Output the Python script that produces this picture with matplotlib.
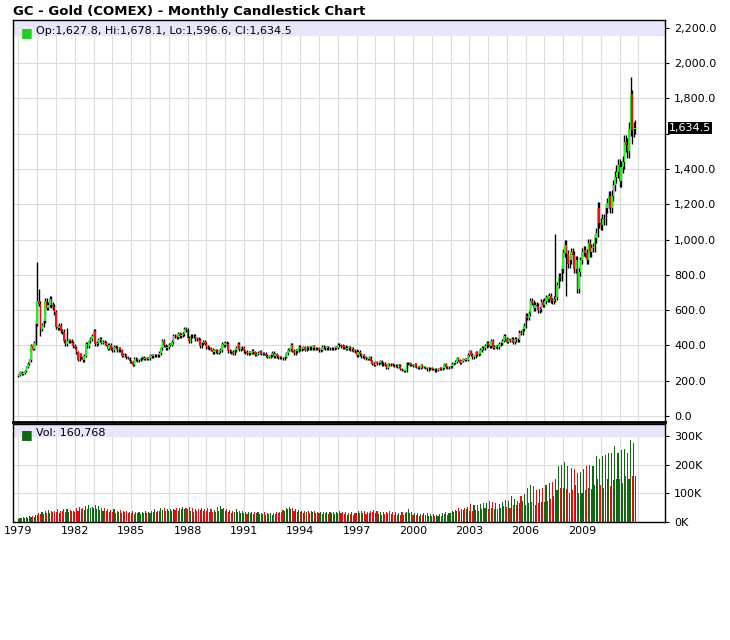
import matplotlib as mpl
import matplotlib.pyplot as plt
import numpy as np

mpl.rcParams.update({"font.family": "DejaVu Sans", "font.size": 8})

START_YEAR = 1979

# monthly closes, Jan 1979 .. Nov 2011
closes = [
    233, 251, 240, 245, 257, 279, 296, 315, 397, 382, 415, 524,
    653, 637, 494, 517, 541, 653, 614, 631, 666, 629, 619, 589,
    506, 499, 513, 482, 479, 426, 406, 425, 428, 427, 414, 397,
    387, 362, 320, 350, 334, 315, 342, 411, 397, 423, 436, 456,
    481, 408, 414, 429, 437, 416, 422, 414, 405, 382, 405, 382,
    373, 394, 388, 375, 384, 373, 342, 348, 343, 333, 329, 309,
    306, 288, 325, 321, 315, 317, 327, 333, 325, 326, 325, 327,
    345, 339, 344, 345, 343, 345, 357, 384, 424, 401, 384, 391,
    405, 405, 420, 452, 451, 447, 463, 453, 460, 466, 492, 486,
    441, 427, 453, 451, 453, 437, 436, 431, 397, 412, 422, 410,
    392, 387, 384, 377, 361, 373, 368, 359, 367, 375, 408, 401,
    415, 407, 368, 367, 363, 352, 372, 387, 408, 380, 384, 386,
    366, 363, 356, 357, 360, 368, 362, 348, 354, 358, 366, 353,
    354, 353, 342, 337, 337, 343, 357, 340, 349, 339, 334, 333,
    329, 327, 337, 355, 377, 378, 402, 371, 355, 369, 371, 391,
    379, 381, 389, 376, 386, 385, 384, 385, 395, 383, 383, 383,
    375, 377, 391, 389, 385, 387, 383, 383, 384, 383, 387, 387,
    405, 400, 396, 392, 391, 382, 385, 386, 379, 379, 371, 369,
    345, 363, 349, 340, 345, 334, 326, 325, 332, 311, 297, 290,
    304, 298, 301, 310, 293, 296, 288, 273, 293, 292, 294, 288,
    287, 288, 280, 286, 268, 262, 255, 255, 299, 299, 291, 288,
    283, 293, 277, 275, 272, 288, 277, 278, 273, 264, 270, 272,
    265, 267, 258, 263, 265, 270, 266, 273, 293, 279, 275, 279,
    282, 296, 301, 308, 327, 318, 303, 312, 323, 317, 319, 347,
    367, 347, 334, 336, 361, 346, 354, 375, 388, 384, 398, 416,
    402, 396, 426, 387, 394, 395, 391, 408, 415, 428, 453, 438,
    422, 434, 428, 435, 417, 436, 429, 433, 473, 470, 495, 513,
    568, 556, 582, 654, 643, 613, 632, 626, 599, 604, 648, 632,
    652, 672, 661, 679, 655, 650, 665, 672, 742, 789, 783, 834,
    923, 971, 916, 863, 885, 928, 912, 833, 884, 718, 816, 882,
    928, 942, 924, 883, 979, 927, 954, 955, 1008, 1040, 1182, 1096,
    1081, 1118, 1113, 1179, 1207, 1245, 1181, 1248, 1307, 1357, 1386, 1421,
    1333, 1411, 1439, 1556, 1536, 1500, 1628, 1828, 1620, 1627.8, 1634.5,
]
high_spikes = {12: 875, 13: 720, 31: 500, 343: 1032, 391: 1920, 392: 1850, 394: 1678.1}
low_spikes = {14: 455, 350: 680, 392: 1540, 394: 1596.6}

# monthly volume, thousands of contracts
volumes = [
    12, 15, 14, 18, 13, 16, 15, 20, 17, 22, 16, 25,
    24, 30, 28, 35, 27, 38, 30, 42, 33, 40, 35, 38,
    36, 44, 32, 40, 38, 46, 34, 44, 36, 42, 38, 40,
    35, 48, 40, 52, 44, 50, 42, 55, 46, 60, 48, 52,
    50, 58, 44, 56, 42, 50, 38, 48, 40, 46, 36, 42,
    34, 44, 32, 40, 35, 42, 30, 38, 34, 40, 32, 36,
    30, 38, 28, 36, 30, 34, 28, 36, 32, 38, 30, 34,
    32, 40, 36, 44, 34, 38, 40, 48, 42, 50, 38, 44,
    40, 46, 38, 44, 42, 48, 40, 50, 44, 52, 46, 50,
    44, 52, 40, 48, 36, 44, 38, 46, 42, 50, 40, 46,
    38, 48, 36, 44, 34, 42, 36, 52, 40, 56, 44, 50,
    38, 46, 34, 42, 32, 40, 36, 44, 34, 40, 32, 38,
    30, 36, 28, 34, 30, 36, 28, 34, 30, 36, 28, 32,
    28, 34, 26, 32, 28, 30, 26, 32, 28, 34, 30, 36,
    34, 42, 38, 48, 44, 52, 46, 50, 40, 46, 36, 42,
    34, 40, 32, 38, 34, 40, 32, 38, 34, 40, 30, 36,
    30, 36, 28, 34, 30, 36, 28, 34, 30, 36, 28, 34,
    32, 40, 30, 36, 28, 34, 26, 32, 28, 34, 26, 32,
    30, 38, 32, 40, 30, 38, 28, 36, 32, 40, 34, 42,
    30, 38, 28, 36, 26, 34, 28, 36, 30, 38, 28, 34,
    26, 34, 24, 32, 26, 34, 24, 32, 36, 44, 30, 36,
    26, 32, 24, 30, 22, 28, 24, 30, 24, 30, 22, 28,
    22, 28, 20, 26, 22, 28, 22, 30, 28, 34, 26, 32,
    30, 38, 34, 42, 40, 48, 38, 46, 42, 50, 44, 52,
    40, 62, 38, 58, 42, 60, 40, 62, 46, 66, 48, 68,
    45, 72, 48, 70, 46, 66, 44, 64, 50, 70, 56, 76,
    52, 74, 50, 92, 58, 80, 60, 74, 68, 90, 74, 96,
    60, 120, 65, 130, 70, 125, 60, 110, 65, 115, 70, 120,
    70, 130, 75, 135, 80, 140, 90, 150, 110, 195, 120, 200,
    120, 210, 115, 195, 100, 190, 110, 185, 130, 170, 100, 175,
    100, 185, 110, 195, 120, 200, 115, 195, 130, 230, 150, 220,
    130, 230, 120, 235, 150, 240, 125, 240, 145, 265, 150, 240,
    150, 250, 135, 255, 160, 240, 150, 285, 160, 275, 161,
]

years_labeled = list(range(1979, 2012, 3))

n = len(closes)
opens = [closes[0] * 0.97] + closes[:-1]
highs, lows = [], []
for i in range(n):
    hi = max(opens[i], closes[i])
    lo = min(opens[i], closes[i])
    highs.append(high_spikes.get(i, hi + hi * 0.025))
    lows.append(low_spikes.get(i, lo - lo * 0.025))

idx = np.arange(n)
up = np.array(closes) >= np.array(opens)
UP_C, DN_C = "#22ee22", "#ee1111"
VUP_C, VDN_C = "#116611", "#dd1111"
BAND = "#e6e8fa"
GRID = "#dcdcdc"

W, H = 730, 640
fig = plt.figure(figsize=(W / 100, H / 100), dpi=100)
x0, x1 = 13 / W, 665 / W
ax = fig.add_axes([x0, (H - 422) / H, x1 - x0, (422 - 20) / H])
axv = fig.add_axes([x0, (H - 522) / H, x1 - x0, (522 - 424) / H])

xmin, xmax = -3.5, 413
for a in (ax, axv):
    a.set_xlim(xmin, xmax)
    a.set_xticks([(y - START_YEAR) * 12 for y in range(START_YEAR, 2013)])
    a.grid(True, color=GRID, lw=0.8)
    a.set_axisbelow(True)
    a.yaxis.tick_right()
    a.tick_params(axis="y", length=3, labelsize=8)
    a.tick_params(axis="x", length=0, labelbottom=False)
    for s in ("top", "right", "left", "bottom"):
        a.spines[s].set_linewidth(1.0)
ax.spines["bottom"].set_linewidth(2)

# price candles
ax.vlines(idx, lows, highs, color="black", lw=1.0, zorder=2)
bottoms = np.minimum(opens, closes)
heights = np.maximum(np.abs(np.array(closes) - np.array(opens)), 4)
ax.bar(idx, heights, bottom=bottoms, width=1.0,
       color=np.where(up, UP_C, DN_C), lw=0, zorder=3)
ax.set_ylim(-34, 2245)
price_ticks = np.arange(0, 2201, 200)
ax.set_yticks(price_ticks)
# the 1,600 label is covered by the last-price tag
ax.set_yticklabels(["" if v == 1600 else f"{v:,.1f}" for v in price_ticks])
ax.axhspan(2160, 2245, color=BAND, zorder=1)
ax.text(0.012, 0.985, "■", transform=ax.transAxes, color="#22cc22", fontsize=9,
        va="top", ha="left")
ax.text(0.035, 0.984, "Op:1,627.8, Hi:1,678.1, Lo:1,596.6, Cl:1,634.5",
        transform=ax.transAxes, fontsize=8, va="top", ha="left")
ax.text(1.006, closes[-1], f"{closes[-1]:,.1f}", transform=ax.get_yaxis_transform(),
        color="white", fontsize=8, va="center", ha="left",
        bbox=dict(boxstyle="square,pad=0.1", fc="black", ec="none"))
fig.text(13 / W, 1 - 12 / H, "GC - Gold (COMEX) - Monthly Candlestick Chart",
         fontsize=9.5, fontweight="bold", va="center", ha="left")

# volume bars
axv.bar(idx, volumes, width=0.7, color=np.where(up, VUP_C, VDN_C), lw=0, zorder=3)
axv.set_ylim(0, 342)
axv.set_yticks([0, 100, 200, 300])
axv.set_yticklabels(["0K", "100K", "200K", "300K"])
axv.axhspan(300, 342, color=BAND, zorder=1)
axv.text(0.012, 0.96, "■", transform=axv.transAxes, color="#116611", fontsize=9,
         va="top", ha="left")
axv.text(0.035, 0.955, "Vol: 160,768", transform=axv.transAxes, fontsize=8,
         va="top", ha="left")
for y in years_labeled:
    axv.text((y - START_YEAR) * 12, -0.04, str(y), transform=axv.get_xaxis_transform(),
             fontsize=8, va="top", ha="center")

fig.savefig("out.png", dpi=100)
